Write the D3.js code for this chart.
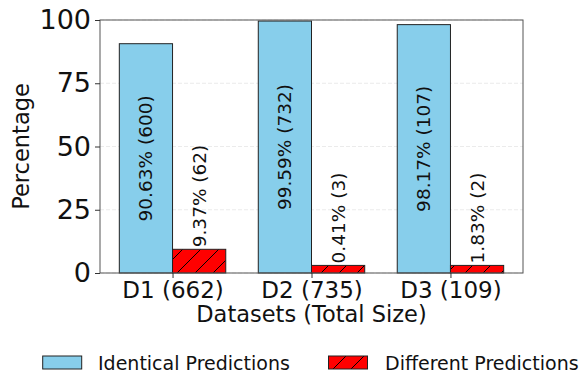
<!DOCTYPE html>
<html>
<head>
<meta charset="utf-8">
<script src="https://cdn.jsdelivr.net/npm/d3@7/dist/d3.min.js"></script>
<style>
  html, body { margin: 0; padding: 0; background: #fff; }
  svg { display: block; font-family: "DejaVu Sans", sans-serif; }
</style>
</head>
<body>
<script>
const categories = ["D1 (662)", "D2 (735)", "D3 (109)"];
const identicalPct = [90.63, 99.59, 98.17];
const identicalCount = [600, 732, 107];
const differentPct = [9.37, 0.41, 1.83];
const differentCount = [62, 3, 2];
const yTicks = [0, 25, 50, 75, 100];
const seriesNames = ["Identical Predictions", "Different Predictions"];
const minVisiblePct = 3; // small bars drawn with a minimum visible height

const W = 581, H = 377;
const margin = { left: 100, right: 58, top: 20, bottom: 104 };
const barW = 0.383;

const svg = d3.select("body").append("svg").attr("width", W).attr("height", H);

const defs = svg.append("defs");
const pat = defs.append("pattern")
  .attr("id", "hatch").attr("patternUnits", "userSpaceOnUse")
  .attr("width", 18).attr("height", 18);
pat.append("rect").attr("width", 18).attr("height", 18).attr("fill", "#ff0000");
pat.append("path").attr("d", "M0,18 L18,0 M-4.5,4.5 L4.5,-4.5 M13.5,22.5 L22.5,13.5")
  .attr("stroke", "#000").attr("stroke-width", 1);

const x = d3.scaleLinear().domain([-0.522, 2.522]).range([margin.left, W - margin.right]);
const y = d3.scaleLinear().domain([0, 100]).range([H - margin.bottom, margin.top]);

// grid
svg.append("g").selectAll("line").data(yTicks).join("line")
  .attr("x1", x.range()[0]).attr("x2", x.range()[1])
  .attr("y1", d => y(d)).attr("y2", d => y(d))
  .attr("stroke", "#e6e6e6").attr("stroke-width", 0.8).attr("stroke-dasharray", "4,2");

const idx = categories.map((c, i) => i);

// identical bars
svg.append("g").selectAll("rect").data(idx).join("rect")
  .attr("x", i => x(i - barW))
  .attr("width", i => x(i) - x(i - barW))
  .attr("y", i => y(identicalPct[i]))
  .attr("height", i => y(0) - y(identicalPct[i]))
  .attr("fill", "#87ceeb").attr("stroke", "#222").attr("stroke-width", 1);

// different bars
svg.append("g").selectAll("rect").data(idx).join("rect")
  .attr("x", i => x(i))
  .attr("width", i => x(i + barW) - x(i))
  .attr("y", i => y(Math.max(differentPct[i], minVisiblePct)))
  .attr("height", i => y(0) - y(Math.max(differentPct[i], minVisiblePct)))
  .attr("fill", "url(#hatch)").attr("stroke", "#222").attr("stroke-width", 1);

// labels inside identical bars
svg.append("g").selectAll("text").data(idx).join("text")
  .attr("transform", i => `translate(${x(i - barW / 2)},${(y(identicalPct[i]) + y(0)) / 2}) rotate(-90)`)
  .attr("text-anchor", "middle").attr("dominant-baseline", "central")
  .attr("font-size", 18.5).attr("fill", "#111")
  .text(i => `${identicalPct[i].toFixed(2)}% (${identicalCount[i]})`);

// labels above different bars
svg.append("g").selectAll("text").data(idx).join("text")
  .attr("transform", i => `translate(${x(i + barW / 2)},${y(Math.max(differentPct[i], minVisiblePct)) - 2}) rotate(-90)`)
  .attr("text-anchor", "start").attr("dominant-baseline", "central")
  .attr("font-size", 18.5).attr("fill", "#111")
  .text(i => `${differentPct[i].toFixed(2)}% (${differentCount[i]})`);

// frame
svg.append("rect")
  .attr("x", x.range()[0]).attr("y", y.range()[1])
  .attr("width", x.range()[1] - x.range()[0]).attr("height", y.range()[0] - y.range()[1])
  .attr("fill", "none").attr("stroke", "#555").attr("stroke-width", 1);

// y axis
const yAxis = svg.append("g").attr("transform", `translate(${margin.left},0)`)
  .call(d3.axisLeft(y).tickValues(yTicks).tickSize(5).tickPadding(4));
yAxis.select(".domain").remove();
yAxis.selectAll("line").attr("stroke", "#333");
yAxis.selectAll("text").attr("font-size", 27).attr("font-family", "DejaVu Sans").attr("fill", "#111");

// x axis
const xAxis = svg.append("g").attr("transform", `translate(0,${H - margin.bottom})`)
  .call(d3.axisBottom(x).tickValues(idx).tickFormat(i => categories[i]).tickSize(5).tickPadding(4));
xAxis.select(".domain").remove();
xAxis.selectAll("line").attr("stroke", "#333");
xAxis.selectAll("text").attr("font-size", 23).attr("font-family", "DejaVu Sans").attr("fill", "#111");

// axis labels
svg.append("text")
  .attr("x", (x.range()[0] + x.range()[1]) / 2).attr("y", 322)
  .attr("text-anchor", "middle").attr("font-size", 22.5).attr("fill", "#111")
  .text("Datasets (Total Size)");
svg.append("text")
  .attr("transform", `translate(29,${(y.range()[0] + y.range()[1]) / 2}) rotate(-90)`)
  .attr("text-anchor", "middle").attr("font-size", 22.5).attr("fill", "#111")
  .text("Percentage");

// legend
const legendItems = [
  { name: seriesNames[0], fill: "#87ceeb", px: 42.7, tx: 98 },
  { name: seriesNames[1], fill: "url(#hatch)", px: 328.5, tx: 385 }
];
const lg = svg.append("g").selectAll("g").data(legendItems).join("g");
lg.append("rect").attr("x", d => d.px).attr("y", 356).attr("width", 39).attr("height", 13)
  .attr("fill", d => d.fill).attr("stroke", "#222").attr("stroke-width", 1);
lg.append("text").attr("x", d => d.tx).attr("y", 369.5)
  .attr("font-size", 19).attr("fill", "#111").text(d => d.name);
</script>
</body>
</html>
